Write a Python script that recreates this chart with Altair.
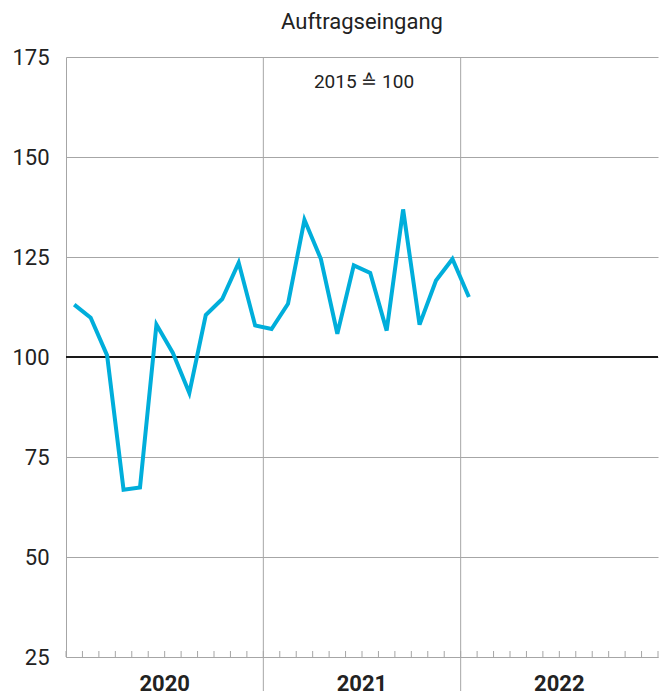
import altair as alt
import pandas as pd

# Monthly index values, Jan 2020 .. Jan 2022 (2015 = 100)
values = [113.1, 109.8, 100.4, 66.8, 67.4, 108.1, 101.0, 91.0, 110.5, 114.5, 123.6, 107.9,
          107.0, 113.3, 134.3, 124.5, 105.8, 122.9, 121.0, 106.6, 136.9, 108.1, 119.1, 124.5,
          115.0]
years = ["2020", "2021", "2022"]
y_ticks = [25, 50, 75, 100, 125, 150, 175]

FONT = "Roboto"
GRID = "#a6a6a6"
TXT = "#222222"
W, H = 592, 600

line_df = pd.DataFrame({"m": [i + 0.5 for i in range(len(values))], "v": values})
year_df = pd.DataFrame({"year": years, "mid": [12 * i + 6 for i in range(len(years))]})
bound_df = pd.DataFrame({"b": [12 * i for i in range(1, len(years))]})
tick_df = pd.DataFrame({"t": list(range(0, 12 * len(years) + 1)), "y0": 25, "y1": 26.5})
ref_df = pd.DataFrame({"r": [100]})

xs = alt.Scale(domain=[0, 12 * len(years)], nice=False, zero=False)
ys = alt.Scale(domain=[25, 175], nice=False, zero=False)

base_axis_y = alt.Axis(values=y_ticks, title=None, ticks=False, domain=True, domainColor=GRID,
                       labelFont=FONT, labelFontSize=22, labelColor=TXT, labelPadding=17,
                       grid=True, gridColor=GRID, gridWidth=1)
base_axis_x = alt.Axis(title=None, labels=False, ticks=False, grid=False, domain=True,
                       domainColor=GRID)

line = alt.Chart(line_df).mark_line(color="#00aedb", strokeWidth=4, strokeJoin="miter").encode(
    x=alt.X("m:Q", scale=xs, axis=base_axis_x),
    y=alt.Y("v:Q", scale=ys, axis=base_axis_y),
)

ticks = alt.Chart(tick_df).mark_rule(color=GRID, strokeWidth=1).encode(
    x=alt.X("t:Q", scale=xs), y=alt.Y("y0:Q", scale=ys), y2="y1:Q"
)

bounds = alt.Chart(bound_df).mark_rule(color=GRID, strokeWidth=1).encode(
    x=alt.X("b:Q", scale=xs), y=alt.value(0), y2=alt.value(H + 34)
)

ref = alt.Chart(ref_df).mark_rule(color="#1a1a1a", strokeWidth=2).encode(
    y=alt.Y("r:Q", scale=ys)
)

year_txt = alt.Chart(year_df).mark_text(font=FONT, fontSize=22, fontWeight="bold", color=TXT,
                                        baseline="middle").encode(
    x=alt.X("mid:Q", scale=xs), y=alt.value(H + 27), text="year:N"
)

annot = alt.Chart(pd.DataFrame({"t": ["2015 \u2259 100"]})).mark_text(
    font=FONT, fontSize=19, color=TXT, baseline="middle").encode(
    x=alt.value(298), y=alt.value(25), text="t:N"
)

chart = alt.layer(bounds, ticks, ref, line, year_txt, annot).properties(
    width=W, height=H,
    title=alt.TitleParams("Auftragseingang", font=FONT, fontSize=22, fontWeight="normal",
                          color=TXT, anchor="middle", offset=12),
    autosize=alt.AutoSizeParams(type="none"),
    padding={"left": 58, "top": 49, "right": 2, "bottom": 40},
).configure_view(stroke=None)

chart.save("out.html", embed_options={"renderer": "svg", "actions": False})
